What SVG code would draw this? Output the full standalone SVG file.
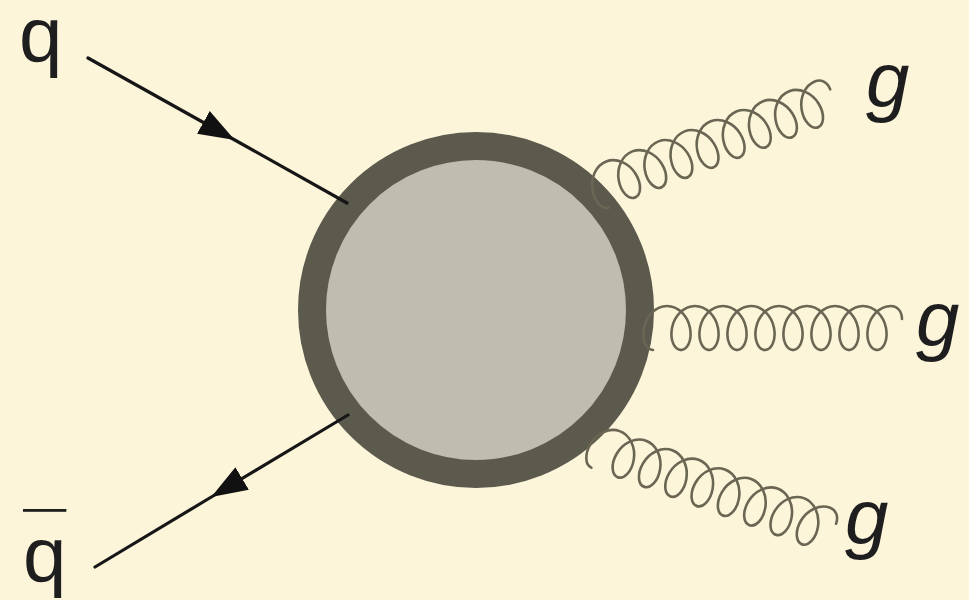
<svg xmlns="http://www.w3.org/2000/svg" xmlns:xlink="http://www.w3.org/1999/xlink" width="969" height="600" viewBox="0 0 969 600">
  <style>
    .quark { fill: none; stroke: #161616; stroke-width: 3.2; stroke-linecap: round; marker-mid: url(#arrow); }
    .gluon { fill: none; stroke: #6a6653; stroke-width: 2.6; stroke-linecap: round; }
    .lbl { font-family: "Liberation Sans", Arial, sans-serif; font-size: 78px; fill: #1e1e1e; }
    .lbl-g { font-style: italic; }
  </style>
  <defs>
    <marker id="arrow" viewBox="0 0 36 28" markerUnits="userSpaceOnUse" markerWidth="36" markerHeight="28" refX="34" refY="14" orient="auto">
      <path d="M0,1 L36,14 L0,27 Z" fill="#111111"/>
    </marker>
    <path id="gl" d="M0,22 C-6.51,22 -11.33,12.15 -9,0 C-6.67,-12.15 2.83,-22 14,-22 C25.17,-22 34.67,-12.15 37,0 C39.33,12.15 34.51,22 28,22"/>
    <g id="gluon">
      <use xlink:href="#gl" x="0"/>
      <use xlink:href="#gl" x="28"/>
      <use xlink:href="#gl" x="56"/>
      <use xlink:href="#gl" x="84"/>
      <use xlink:href="#gl" x="112"/>
      <use xlink:href="#gl" x="140"/>
      <use xlink:href="#gl" x="168"/>
      <use xlink:href="#gl" x="196"/>
      <path d="M224,22 C217.49,22 212.67,12.15 215,0 C217.33,-12.15 226.83,-22 238,-22 C244,-22 249,-17 249,-9"/>
    </g>
  </defs>

  <rect width="969" height="600" fill="#fcf5da"/>

  <g id="blob">
    <circle cx="476" cy="310" r="164" fill="#bfbdb0" stroke="#5b5a4d" stroke-width="28"/>
  </g>

  <g id="connectors">
    <path id="q-line" class="quark" d="M88,58 L233,139 L347,203"/>
    <path id="qbar-line" class="quark" d="M348,415 L213,496 L95,567"/>
    <use id="gluon-top" class="gluon" xlink:href="#gluon" transform="translate(601,187) rotate(-21)"/>
    <use id="gluon-mid" class="gluon" xlink:href="#gluon" transform="translate(653,328)"/>
    <use id="gluon-bot" class="gluon" xlink:href="#gluon" transform="translate(599,447) rotate(20)"/>
  </g>

  <g id="label-q">
    <text class="lbl" x="19" y="62">q</text>
  </g>
  <g id="label-qbar">
    <text class="lbl" x="23" y="582" text-decoration="overline">q</text>
  </g>
  <g id="label-g1">
    <text class="lbl lbl-g" x="866" y="107">g</text>
  </g>
  <g id="label-g2">
    <text class="lbl lbl-g" x="916" y="346">g</text>
  </g>
  <g id="label-g3">
    <text class="lbl lbl-g" x="845" y="544">g</text>
  </g>
</svg>
